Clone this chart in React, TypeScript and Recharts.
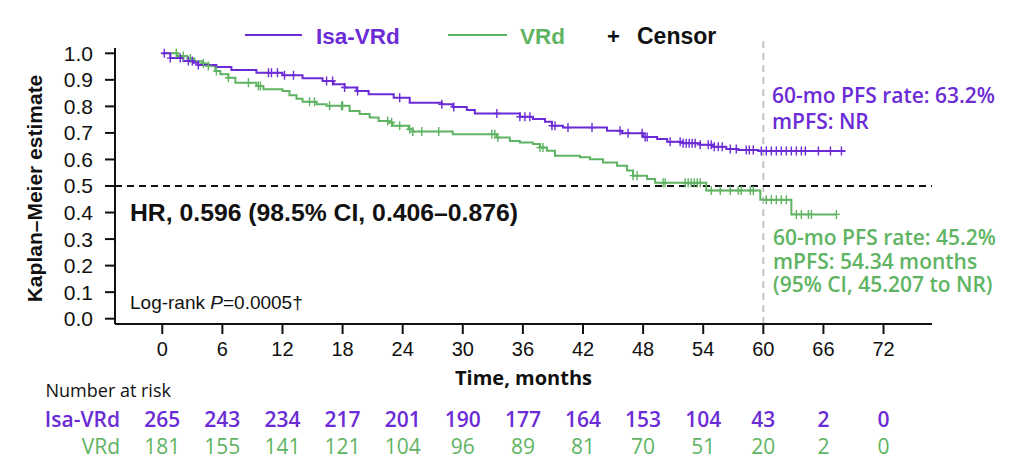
import React from 'react';
import { ComposedChart, Line, Scatter, XAxis, YAxis, ReferenceLine } from 'recharts';

const PURPLE = '#6b2bd6';
const GREEN = '#5fb463';
const INK = '#111111';
const ARIAL = '"Liberation Sans", Arial, sans-serif';
const MYRIAD = '"Open Sans", "Noto Sans", sans-serif';

// axis ticks
const months = [0, 6, 12, 18, 24, 30, 36, 42, 48, 54, 60, 66, 72];
const yTicks = [0, 0.1, 0.2, 0.3, 0.4, 0.5, 0.6, 0.7, 0.8, 0.9, 1.0];

// number at risk
const isaAtRisk = [265, 243, 234, 217, 201, 190, 177, 164, 153, 104, 43, 2, 0];
const vrdAtRisk = [181, 155, 141, 121, 104, 96, 89, 81, 70, 51, 20, 2, 0];

// KM steps [month, survival]
const isaSteps: [number, number][] = [
  [0, 1.0], [0.8, 0.982], [2.1, 0.971], [3.1, 0.964], [3.6, 0.956], [5.4, 0.948],
  [6.9, 0.937], [9.4, 0.927], [12, 0.917], [14, 0.906], [16, 0.896], [17.1, 0.883],
  [18.2, 0.871], [19.4, 0.858], [20.6, 0.846], [23.1, 0.833], [24.7, 0.814],
  [27.9, 0.808], [29, 0.798], [30.4, 0.786], [31.2, 0.773], [35.7, 0.761],
  [37, 0.752], [38.2, 0.742], [38.9, 0.727], [40, 0.72], [44.4, 0.708],
  [45.9, 0.699], [48, 0.685], [49.4, 0.677], [50.4, 0.667], [52, 0.661],
  [53.7, 0.655], [55, 0.648], [56.3, 0.639], [57.5, 0.636], [59.5, 0.632],
];
const isaLastFollowUp = 68.2;

const vrdSteps: [number, number][] = [
  [0, 1.0], [1.5, 0.99], [2.5, 0.98], [3.2, 0.97], [4.0, 0.962], [4.6, 0.952],
  [5.3, 0.933], [5.8, 0.921], [6.6, 0.908], [7.3, 0.889], [9.4, 0.877], [10.1, 0.865],
  [12, 0.858], [12.7, 0.842], [13.4, 0.829], [14, 0.817], [15.4, 0.808], [16.4, 0.802],
  [18.7, 0.783], [19.7, 0.771], [20.7, 0.758], [21.6, 0.745], [22.6, 0.739], [23, 0.727],
  [24.6, 0.714], [25, 0.705], [29, 0.695], [33.4, 0.683], [34.7, 0.67], [35.7, 0.664],
  [37, 0.658], [37.7, 0.645], [38.4, 0.633], [39.2, 0.614], [41.7, 0.608], [42.7, 0.601],
  [44, 0.589], [45.4, 0.576], [46.4, 0.558], [47, 0.539], [48.4, 0.526], [49.2, 0.512],
  [54.3, 0.483], [59.7, 0.448], [62.8, 0.393],
];
const vrdLastFollowUp = 67.3;

// censor times (months)
const isaCensorTimes = [
  0.2, 0.8, 1.8, 2.6, 3.0, 3.6, 10.6, 10.9, 11.5, 12.2, 13.1, 16.4, 17.0, 18.2, 19.5,
  23.7, 27.9, 29.1, 33.4, 35.7, 36.2, 36.7, 38.9, 39.2, 40.5, 42.9, 45.7, 46.5, 47.9,
  48.2, 48.4, 50.7, 51.7, 52.0, 52.3, 52.6, 52.9, 53.2, 53.7, 54.5, 54.8, 55.1, 55.5,
  55.9, 56.7, 57.3, 58.3, 58.6, 59.0, 59.8, 60.3, 60.8, 61.3, 61.8, 62.3, 62.8, 63.3,
  63.8, 64.2, 65.5, 66.7, 67.8,
];
const vrdCensorTimes = [
  1.4, 2.1, 2.8, 4.1, 4.6, 5.4, 6.6, 8.6, 9.6, 9.8, 14.7, 15.2, 16.7, 17.9, 18.0, 22.5,
  22.9, 23.7, 24.7, 25.0, 25.9, 27.6, 32.9, 33.2, 33.5, 37.7, 38.0, 47.0, 47.4, 50.0,
  50.2, 52.2, 52.5, 52.8, 53.1, 53.4, 53.7, 54.8, 55.7, 56.7, 57.5, 57.8, 58.7, 59.0,
  60.3, 60.8, 61.3, 61.8, 62.3, 63.3, 63.8, 64.5, 64.8, 67.3,
];

function toLine(steps: [number, number][], last: number) {
  const pts = steps.map(([t, s]) => ({ t, s }));
  pts.push({ t: last, s: steps[steps.length - 1][1] });
  return pts;
}

function survAt(steps: [number, number][], t: number) {
  let s = 1;
  for (const [ti, si] of steps) if (ti <= t) s = si;
  return s;
}

const isaLine = toLine(isaSteps, isaLastFollowUp);
const vrdLine = toLine(vrdSteps, vrdLastFollowUp);
const isaCensor = isaCensorTimes.map((t) => ({ t, s: survAt(isaSteps, t) }));
const vrdCensor = vrdCensorTimes.map((t) => ({ t, s: survAt(vrdSteps, t) }));
// invisible series so the at-risk axes get a domain
const riskAnchor = months.map((t) => ({ t, s: 0.5 }));

const plus = (color: string) => (props: any) => {
  const { cx, cy } = props;
  if (cx == null || cy == null) return <g />;
  return (
    <path
      d={`M${cx - 3.5},${cy}H${cx + 3.5}M${cx},${cy - 4.5}V${cy + 4.5}`}
      stroke={color}
      strokeWidth={1.4}
      fill="none"
    />
  );
};

const X_DOMAIN: [number, number] = [-4.72, 76.84];

export default function App() {
  return (
    <div style={{ position: 'absolute', left: 0, top: 0, width: 1021, height: 475, background: '#fff' }}>
      <ComposedChart width={1021} height={475} margin={{ top: 48, right: 89, bottom: 15, left: 55 }}>
        <XAxis
          dataKey="t"
          type="number"
          domain={X_DOMAIN}
          ticks={months}
          interval={0}
          allowDataOverflow
          height={82}
          tickSize={10}
          tickMargin={8}
          axisLine={{ stroke: INK, strokeWidth: 2 }}
          tickLine={{ stroke: INK, strokeWidth: 2 }}
          tick={{ fill: INK, fontSize: 20, fontFamily: ARIAL }}
          label={{ value: 'Time, months', position: 'insideBottom', offset: 21, fill: INK, fontSize: 20, fontWeight: 700, fontFamily: MYRIAD }}
        />
        <XAxis
          xAxisId="isa"
          dataKey="t"
          type="number"
          domain={X_DOMAIN}
          ticks={months}
          interval={0}
          allowDataOverflow
          height={27}
          tickSize={0}
          tickMargin={6}
          axisLine={false}
          tickLine={false}
          tick={{ fill: PURPLE, fontSize: 21, fontWeight: 600, fontFamily: MYRIAD }}
          tickFormatter={(v: number) => String(isaAtRisk[months.indexOf(v)])}
          label={{ value: 'Isa-VRd', position: 'left', offset: -5, fill: PURPLE, fontSize: 21, fontWeight: 600, fontFamily: MYRIAD }}
        />
        <XAxis
          xAxisId="vrd"
          dataKey="t"
          type="number"
          domain={X_DOMAIN}
          ticks={months}
          interval={0}
          allowDataOverflow
          height={27}
          tickSize={0}
          tickMargin={6}
          axisLine={false}
          tickLine={false}
          tick={{ fill: GREEN, fontSize: 21, fontWeight: 500, fontFamily: MYRIAD }}
          tickFormatter={(v: number) => String(vrdAtRisk[months.indexOf(v)])}
          label={{ value: 'VRd', position: 'left', offset: -5, fill: GREEN, fontSize: 21, fontWeight: 500, fontFamily: MYRIAD }}
        />
        <YAxis
          dataKey="s"
          type="number"
          domain={[-0.02, 1.02]}
          ticks={yTicks}
          interval={0}
          allowDataOverflow
          width={60}
          tickSize={10}
          tickMargin={12}
          axisLine={{ stroke: INK, strokeWidth: 2 }}
          tickLine={{ stroke: INK, strokeWidth: 2 }}
          tick={{ fill: INK, fontSize: 21, fontFamily: ARIAL }}
          tickFormatter={(v: number) => v.toFixed(1)}
        />
        <ReferenceLine
          segment={[{ x: 60, y: -0.02 }, { x: 60, y: 1.058 }]}
          ifOverflow="visible"
          stroke="#c4c4c4"
          strokeWidth={2}
          strokeDasharray="7 5"
        />
        <ReferenceLine y={0.5} stroke={INK} strokeWidth={1.8} strokeDasharray="7 5" />
        <Line xAxisId="isa" data={riskAnchor} dataKey="s" stroke="transparent" strokeWidth={0} dot={false} activeDot={false} isAnimationActive={false} />
        <Line xAxisId="vrd" data={riskAnchor} dataKey="s" stroke="transparent" strokeWidth={0} dot={false} activeDot={false} isAnimationActive={false} />
        <Line data={vrdLine} dataKey="s" type="stepAfter" stroke={GREEN} strokeWidth={2} dot={false} isAnimationActive={false} />
        <Line data={isaLine} dataKey="s" type="stepAfter" stroke={PURPLE} strokeWidth={2} dot={false} isAnimationActive={false} />
        <Scatter data={vrdCensor} dataKey="s" shape={plus(GREEN)} isAnimationActive={false} />
        <Scatter data={isaCensor} dataKey="s" shape={plus(PURPLE)} isAnimationActive={false} />
      </ComposedChart>

      <svg width={1021} height={475} style={{ position: 'absolute', left: 0, top: 0, pointerEvents: 'none' }}>
        {/* legend */}
        <line x1={245} x2={302} y1={35} y2={35} stroke={PURPLE} strokeWidth={2} />
        <text x={316} y={44} fill={PURPLE} fontSize={22.5} fontWeight={700} fontFamily={ARIAL}>Isa-VRd</text>
        <line x1={448} x2={507} y1={35} y2={35} stroke={GREEN} strokeWidth={2} />
        <text x={520} y={44} fill={GREEN} fontSize={22.5} fontWeight={700} fontFamily={ARIAL}>VRd</text>
        <text x={607} y={44} fill={INK} fontSize={22} fontWeight={700} fontFamily={ARIAL}>+</text>
        <text x={637} y={44} fill={INK} fontSize={23} fontWeight={700} fontFamily={ARIAL}>Censor</text>

        {/* y axis title */}
        <text x={42} y={188.5} transform="rotate(-90 42 188.5)" textAnchor="middle" fill={INK} fontSize={21} fontWeight={700} fontFamily={ARIAL}>
          Kaplan–Meier estimate
        </text>

        {/* annotations */}
        <text x={130} y={221} fill={INK} fontSize={23} fontWeight={700} fontFamily={ARIAL} textLength={388} lengthAdjust="spacingAndGlyphs">
          HR, 0.596 (98.5% CI, 0.406–0.876)
        </text>
        <text x={130} y={309} fill={INK} fontSize={19} fontFamily={ARIAL}>
          Log-rank <tspan fontStyle="italic">P</tspan>=0.0005†
        </text>

        <g fill={PURPLE} fontSize={21} fontWeight={600} fontFamily={MYRIAD}>
          <text x={772} y={103}>60-mo PFS rate: 63.2%</text>
          <text x={772} y={128.5}>mPFS: NR</text>
        </g>
        <g fill={GREEN} fontSize={21} fontWeight={600} fontFamily={MYRIAD}>
          <text x={773} y={244.5}>60-mo PFS rate: 45.2%</text>
          <text x={773} y={268.5}>mPFS: 54.34 months</text>
          <text x={773} y={292}>(95% CI, 45.207 to NR)</text>
        </g>

        <text x={45.5} y={397} fill={INK} fontSize={18} fontFamily={MYRIAD}>Number at risk</text>
      </svg>
    </div>
  );
}
